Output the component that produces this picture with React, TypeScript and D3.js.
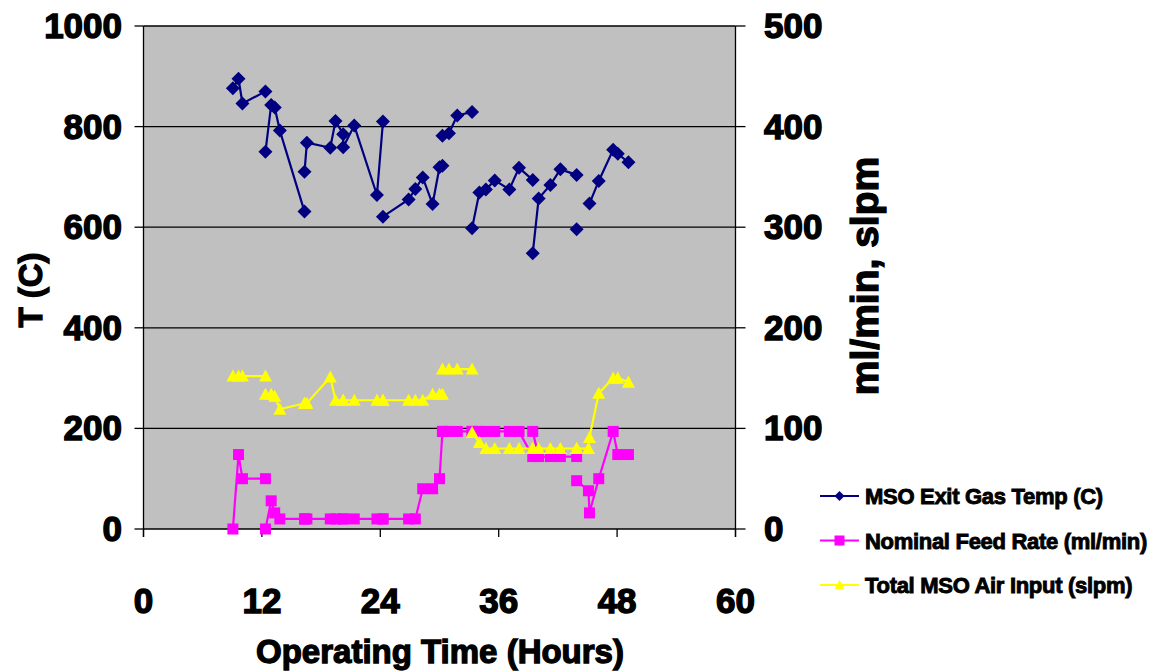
import React from "react";
import * as d3 from "d3";

// Shared operating-time column (null = break in the lines)
const hours: (number | null)[] = [
  9.06, 9.63, 10.03, 12.36, null,
  12.36, 12.94, 13.3, 13.82, 16.32, null,
  16.32, 16.56, 18.93, 19.46, 20.24, 20.24, 21.36, 23.66, 24.27, null,
  24.27, 26.87, 27.55, 28.3, 29.3, 30.0, 30.3, null,
  30.3, 30.96, 31.8, 33.3, null,
  33.3, 34.04, 34.7, 35.6, 37.08, 38.06, 39.45, null,
  39.45, 40.05, 41.24, 42.25, 43.9, null,
  43.9, 45.1, 45.2, 46.14, 47.6, 48.07, 49.15,
];
const exitGasTemp: (number | null)[] = [
  876, 895, 846, 870, null,
  750, 843, 838, 792, 631, null,
  710, 768, 758, 811, 785, 759, 802, 664, 810, null,
  621, 655, 676, 699, 646, 719, 722, null,
  782, 787, 822, 829, null,
  598, 669, 675, 693, 675, 718, 694, null,
  548, 657, 684, 715, 704, null,
  596, null, 647, 692, 754, 746, 729,
];
const feedRate: (number | null)[] = [
  0, 74, 50, 50, null,
  0, 28, 16, 10, 10, null,
  10, 10, 10, 10, 10, 10, 10, 10, 10, null,
  10, 10, 10, 40, 40, 50, 97, null,
  97, 97, 97, 97, null,
  97, 97, 97, 97, 97, 97, 72, null,
  97, 72, 72, 72, 72, null,
  48, 38, 16, 50, 97, 74, 74,
];
const airInput: (number | null)[] = [
  152, 152, 152, 152, null,
  134, 134, 132, 119, 125, null,
  125, 125, 151, 128, 128, 128, 128, 128, 128, null,
  128, 128, 128, 128, 134, 134, 134, null,
  159, 159, 159, 159, null,
  96, 86, 80, 80, 80, 80, 80, null,
  80, 80, 80, 80, 80, null,
  80, 80, 91, 135, 150, 150, 146,
];

const xTicks = [0, 12, 24, 36, 48, 60];
const leftTicks = [0, 200, 400, 600, 800, 1000];
const rightTicks = [0, 100, 200, 300, 400, 500];
const legendLabels = [
  "MSO Exit Gas Temp (C)",
  "Nominal Feed Rate (ml/min)",
  "Total MSO Air Input (slpm)",
];

const FONT = "'Liberation Sans', Arial, sans-serif";
const NAVY = "#000080";
const PINK = "#FF00FF";
const YELLOW = "#FFFF00";

type Pt = { h: number | null; v: number | null };

function Marker({ kind, x, y, color, s }: { kind: string; x: number; y: number; color: string; s: number }) {
  if (kind === "diamond") {
    const r = s / 2;
    return <path d={`M${x},${y - r}L${x + r},${y}L${x},${y + r}L${x - r},${y}Z`} fill={color} />;
  }
  if (kind === "square") {
    return <rect x={x - s / 2} y={y - s / 2} width={s} height={s} fill={color} />;
  }
  const r = s / 2;
  return <path d={`M${x},${y - r}L${x + r},${y + r * 0.85}L${x - r},${y + r * 0.85}Z`} fill={color} />;
}

export default function App() {
  const x = d3.scaleLinear().domain([0, 60]).range([143.5, 735.5]);
  const yL = d3.scaleLinear().domain([0, 1000]).range([529, 26]);
  const yR = d3.scaleLinear().domain([0, 500]).range([529, 26]);

  const mk = (vals: (number | null)[]): Pt[] => hours.map((h, i) => ({ h, v: vals[i] }));
  const series = [
    { pts: mk(exitGasTemp), y: yL, color: NAVY, kind: "diamond", s: 14 },
    { pts: mk(feedRate), y: yR, color: PINK, kind: "square", s: 11 },
    { pts: mk(airInput), y: yR, color: YELLOW, kind: "triangle", s: 13 },
  ];

  const [x0, x1] = x.range();
  const yTop = yL(1000);
  const yBot = yL(0);

  return (
    <svg width={1157} height={671} style={{ position: "absolute", left: 0, top: 0, background: "#fff" }}>
      <rect x={x0} y={yTop} width={x1 - x0} height={yBot - yTop} fill="#C0C0C0" />
      {leftTicks.filter((t) => t > 0).map((t) => (
        <line key={t} x1={x0} x2={x1} y1={yL(t)} y2={yL(t)} stroke="#000" strokeWidth={1.3} />
      ))}
      {/* axes */}
      <line x1={x0} x2={x1} y1={yBot} y2={yBot} stroke="#000" strokeWidth={1.3} />
      <line x1={x0} x2={x0} y1={yTop} y2={yBot + 8} stroke="#000" strokeWidth={1.3} />
      <line x1={x1} x2={x1} y1={yTop} y2={yBot + 8} stroke="#000" strokeWidth={1.3} />
      {leftTicks.map((t) => (
        <line key={t} x1={x0 - 9} x2={x0} y1={yL(t)} y2={yL(t)} stroke="#000" strokeWidth={1.3} />
      ))}
      {rightTicks.map((t) => (
        <line key={t} x1={x1} x2={x1 + 10} y1={yR(t)} y2={yR(t)} stroke="#000" strokeWidth={1.3} />
      ))}
      {xTicks.map((t) => (
        <line key={t} x1={x(t)} x2={x(t)} y1={yBot} y2={yBot + 8} stroke="#000" strokeWidth={1.3} />
      ))}

      {/* series */}
      {series.map((s, si) => {
        const line = d3
          .line<Pt>()
          .defined((d) => d.h != null && d.v != null)
          .x((d) => x(d.h as number))
          .y((d) => s.y(d.v as number));
        return (
          <g key={si}>
            <path d={line(s.pts) || ""} fill="none" stroke={s.color} strokeWidth={2.2} />
            {s.pts
              .filter((d) => d.h != null && d.v != null)
              .map((d, i) => (
                <Marker key={i} kind={s.kind} x={x(d.h as number)} y={s.y(d.v as number)} color={s.color} s={s.s} />
              ))}
          </g>
        );
      })}

      {/* tick labels */}
      <g fontFamily={FONT} fontWeight="bold" fontSize={35} fill="#000" stroke="#000" strokeWidth={1.4}>
        {leftTicks.map((t) => (
          <text key={t} x={122} y={yL(t) + 12} textAnchor="end">{t}</text>
        ))}
        {rightTicks.map((t) => (
          <text key={t} x={764} y={yR(t) + 12} textAnchor="start">{t}</text>
        ))}
        {xTicks.map((t) => (
          <text key={t} x={x(t)} y={613} textAnchor="middle">{t}</text>
        ))}
      </g>

      {/* axis titles */}
      <g fontFamily={FONT} fontWeight="bold" fontSize={33} fill="#000" stroke="#000" strokeWidth={1.3}>
        <text x={440} y={663} textAnchor="middle">Operating Time (Hours)</text>
        <text transform="translate(42,290) rotate(-90)" textAnchor="middle">T (C)</text>
        <text transform="translate(878,276) rotate(-90)" textAnchor="middle" fontSize={39}>ml/min, slpm</text>
      </g>

      {/* legend */}
      <g fontFamily={FONT} fontWeight="bold" fontSize={22} fill="#000">
        {legendLabels.map((lab, i) => {
          const cy = 496 + i * 44.5;
          const s = series[i];
          return (
            <g key={lab}>
              <line x1={820} x2={859} y1={cy} y2={cy} stroke={s.color} strokeWidth={2} />
              <Marker kind={s.kind} x={839.5} y={cy} color={s.color} s={10} />
              <text x={865} y={cy + 8} letterSpacing={-0.3} stroke="#000" strokeWidth={0.9}>{lab}</text>
            </g>
          );
        })}
      </g>
    </svg>
  );
}
